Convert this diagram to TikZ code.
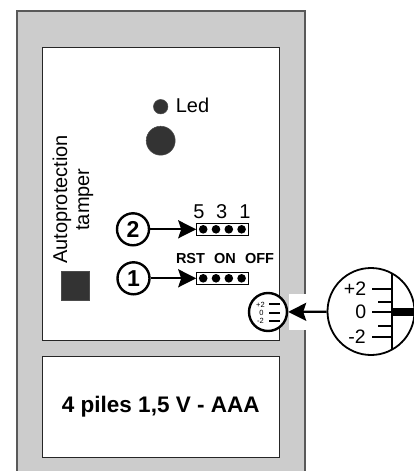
\documentclass[tikz,border=0pt]{standalone}
\usepackage{xcolor}
\usepackage{fontspec}
\setmainfont{Liberation Sans}
\usepackage{tikz}
\usetikzlibrary{arrows.meta,positioning,calc}
\definecolor{casegrey}{HTML}{CCCCCC}
\definecolor{darkfill}{HTML}{333333}

\begin{document}
\begin{tikzpicture}[x=1pt, y=-1pt, >={Stealth[length=18pt, width=18pt, inset=3pt]}]
        \tikzset{
            panel/.style={draw=black!85, fill=white, rectangle, minimum width=237.5pt, line width=1pt, inner sep=0pt},
            led/.style={draw=black!70, fill=darkfill, circle, inner sep=0pt, line width=0.5pt},
            callout/.style={draw=black, fill=white, circle, minimum size=32pt, inner sep=0pt, line width=2.4pt, font=\fontsize{23}{23}\selectfont\bfseries},
            jumper/.style={draw=black, fill=white, rectangle, minimum width=52pt, minimum height=12pt, inner sep=0pt, line width=1pt},
            pin/.style={fill=black, circle, minimum size=8.6pt, inner sep=0pt},
            plain/.style={inner sep=0pt, anchor=base, font=\fontsize{20}{20}\selectfont},
            switchtext/.style={inner sep=0pt, anchor=base, font=\fontsize{14.5}{14.5}\selectfont\bfseries},
            dialtext/.style={inner sep=0pt, font=\fontsize{19.5}{19.5}\selectfont},
            minitext/.style={inner sep=0pt, font=\fontsize{7.5}{7.5}\selectfont},
            link/.style={->, line width=2.2pt},
            tick/.style={line width=2.2pt}
        }
        \useasboundingbox (0,0) rectangle (414,471);

        % Housing
        \path [fill=casegrey] (17,471) |- (305,11) -- (305,471) -- cycle;
        \draw [line width=1.2pt, draw=black!65] (17,471) |- (305,11) -- (305,471);
        \node [fill=white, inner sep=0pt, minimum width=17.5pt, minimum height=36pt] (gap) at (297.5,312) {};

        % Nodes
        \node [panel, minimum height=293pt] (board) at (160.75,193.5) {};
        \node [panel, minimum height=100.5pt, font=\fontsize{22.5}{22.5}\selectfont\bfseries] (battery) at (160.75,406.75) {4 piles 1,5 V - AAA};

        \node [led, minimum size=14.5pt] (ledsmall) at (160.7,106.7) {};
        \node [led, minimum size=29pt] (ledbig) at (160.7,140.7) {};
        \node [plain] (ledtext) at (192.5,112.5) {Led};

        \node [rotate=90, align=center, inner sep=0pt, font=\fontsize{20}{22}\selectfont] (tamper) at (73,199.5) {Autoprotection\\tamper};
        \node [fill=darkfill, draw=black!70, minimum size=28.5pt, inner sep=0pt, line width=0.5pt] (square) at (75.3,285.8) {};

        \node [callout] (numtwo) at (133,229.3) {2};
        \node [callout] (numone) at (133.5,278.3) {1};
        \node [jumper, right=46pt of numtwo] (jumpertwo) {};
        \node [jumper, right=45.5pt of numone] (jumperone) {};

        \node [pin] (pintwoa) at ($(jumpertwo.west)+(7,0)$) {};
        \node [pin, right=3.8pt of pintwoa] (pintwob) {};
        \node [pin, right=3.8pt of pintwob] (pintwoc) {};
        \node [pin, right=3.8pt of pintwoc] (pintwod) {};
        \node [pin] (pinonea) at ($(jumperone.west)+(7,0)$) {};
        \node [pin, right=3.8pt of pinonea] (pinoneb) {};
        \node [pin, right=3.8pt of pinoneb] (pinonec) {};
        \node [pin, right=3.8pt of pinonec] (pinoned) {};

        \node [plain] (labelfive) at (199,218.3) {5};
        \node [plain] (labelthree) at (221.7,218.3) {3};
        \node [plain] (labelone) at (245,218.3) {1};
        \node [switchtext] (labelrst) at (190.5,263.3) {RST};
        \node [switchtext] (labelon) at (225,263.3) {ON};
        \node [switchtext] (labeloff) at (259.5,263.3) {OFF};

        % Small trimmer
        \node [draw=black, fill=white, circle, minimum size=38pt, inner sep=0pt, line width=2.4pt] (trimmer) at (268,312) {};
        \node [minitext] (miniplus) at (260.5,304.5) {+2};
        \node [minitext] (minizero) at (261.5,312.5) {0};
        \node [minitext] (miniminus) at (260.5,321) {-2};
        \draw [tick] (269,304.3) -- (280,304.3);
        \draw [tick] (269,312.7) -- (280,312.7);
        \draw [tick] (269,321) -- (280,321);

        % Enlarged trimmer
        \node [draw=black, fill=white, circle, minimum size=87pt, inner sep=0pt, line width=1.8pt] (dial) at (371,311.5) {};
        \draw [line width=1.8pt] (392,274) -- (392,349);
        \fill (392,308) rectangle (414,315.5);
        \draw [tick] (372.3,289) -- (392,289);
        \draw [tick] (378.3,301.7) -- (392,301.7);
        \draw [tick] (372.3,312) -- (392,312);
        \draw [tick] (378.3,326) -- (392,326);
        \draw [tick] (372.3,337.3) -- (392,337.3);
        \node [dialtext] (dialplus) at (355,289) {+2};
        \node [dialtext] (dialzero) at (360.7,311.7) {0};
        \node [dialtext] (dialminus) at (357,336.7) {-2};

        % Connections
        \draw [link] (numtwo) -- (jumpertwo);
        \draw [link] (numone) -- (jumperone);
        \draw [link] (dial) -- (trimmer);
\end{tikzpicture}
\end{document}
